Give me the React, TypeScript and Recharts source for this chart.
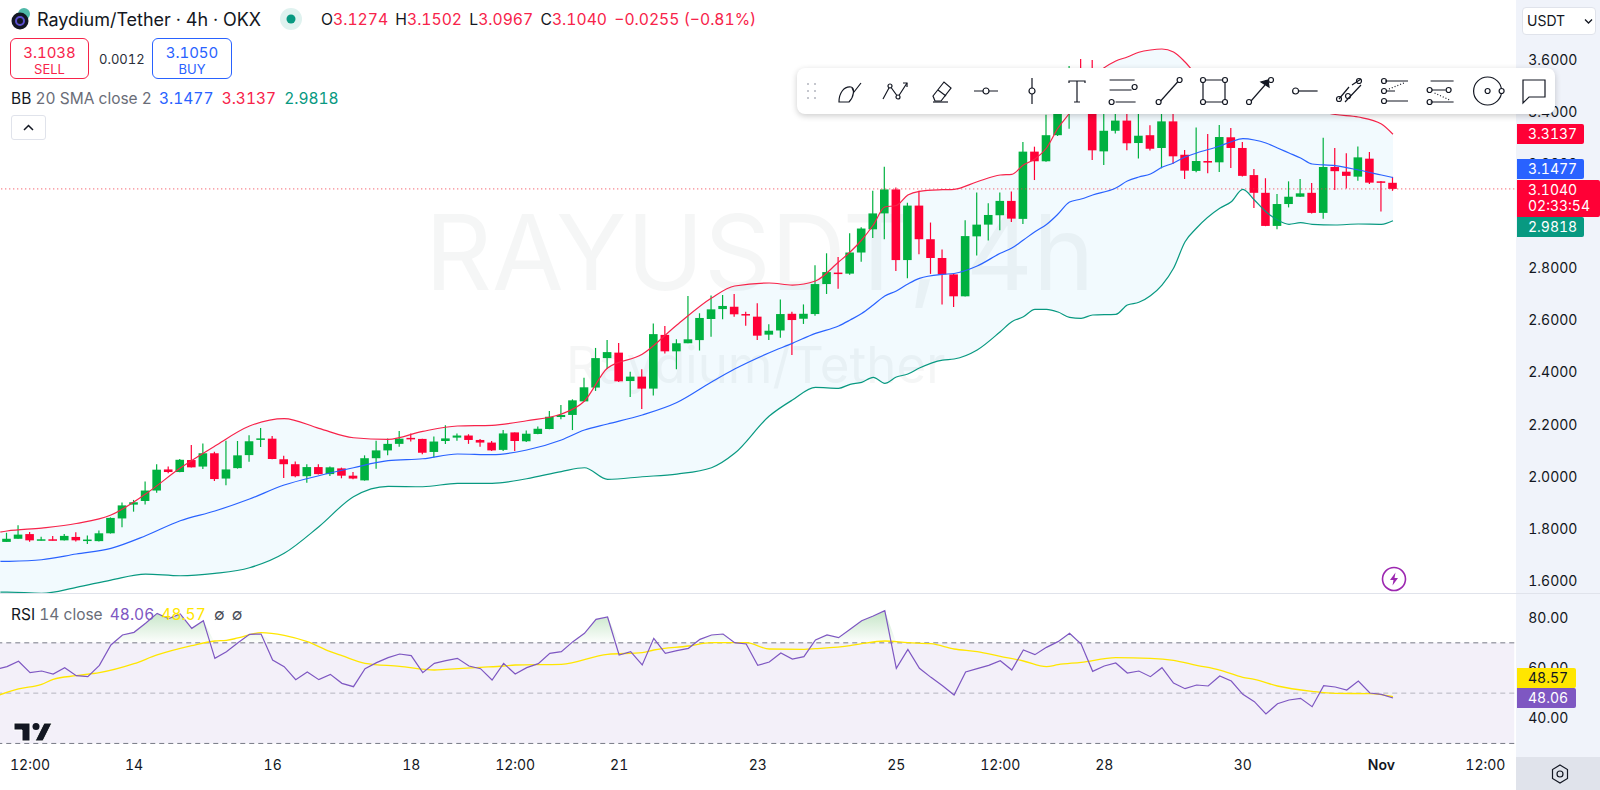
import React from "react";
import { ComposedChart, Bar, Line, Area, XAxis, YAxis, ReferenceLine, ReferenceArea } from "recharts";

const opens = [1.750,1.762,1.780,1.756,1.760,1.756,1.769,1.756,1.753,1.783,1.840,1.893,1.907,1.947,2.028,2.018,2.064,2.039,2.090,1.993,2.033,2.083,2.143,2.146,2.067,2.048,2.002,2.037,2.010,2.032,2.004,1.986,2.071,2.101,2.126,2.149,2.145,2.095,2.137,2.150,2.158,2.141,2.131,2.103,2.170,2.136,2.164,2.183,2.229,2.237,2.289,2.342,2.455,2.476,2.367,2.384,2.338,2.544,2.481,2.512,2.524,2.605,2.643,2.652,2.624,2.614,2.545,2.561,2.625,2.606,2.624,2.739,2.783,2.779,2.860,2.949,3.010,3.102,2.831,3.040,2.911,2.839,2.776,2.692,2.922,2.967,3.003,3.058,2.989,3.247,3.210,3.310,3.422,3.503,3.407,3.248,3.327,3.366,3.280,3.310,3.261,3.363,3.235,3.173,3.211,3.206,3.302,3.261,3.157,3.089,2.962,3.046,3.074,3.089,3.012,3.188,3.170,3.151,3.220,3.133,3.1274];
const highs = [1.785,1.814,1.788,1.770,1.773,1.780,1.787,1.775,1.794,1.844,1.901,1.911,1.982,2.048,2.039,2.068,2.122,2.127,2.096,2.138,2.137,2.159,2.187,2.156,2.080,2.058,2.048,2.048,2.039,2.035,2.018,2.082,2.138,2.147,2.175,2.166,2.146,2.154,2.197,2.166,2.163,2.145,2.137,2.179,2.170,2.177,2.193,2.252,2.275,2.297,2.380,2.494,2.524,2.513,2.403,2.412,2.588,2.578,2.527,2.693,2.627,2.695,2.697,2.701,2.633,2.665,2.585,2.680,2.633,2.661,2.811,2.857,2.843,2.934,2.957,3.097,3.189,3.109,3.051,3.097,2.975,2.872,2.778,2.984,3.090,3.049,3.090,3.094,3.284,3.266,3.388,3.483,3.575,3.602,3.598,3.445,3.426,3.399,3.399,3.348,3.430,3.430,3.253,3.340,3.315,3.349,3.338,3.284,3.180,3.145,3.084,3.133,3.142,3.127,3.300,3.261,3.241,3.267,3.246,3.134,3.1502];
const lows = [1.750,1.762,1.751,1.755,1.755,1.755,1.752,1.742,1.752,1.782,1.806,1.866,1.893,1.939,2.013,2.017,2.035,2.030,1.984,1.967,2.031,2.057,2.114,2.067,1.995,1.998,1.977,2.009,2.003,1.994,1.990,1.985,2.031,2.082,2.115,2.135,2.086,2.074,2.126,2.138,2.126,2.115,2.099,2.099,2.099,2.133,2.163,2.182,2.220,2.179,2.288,2.329,2.413,2.363,2.306,2.260,2.312,2.473,2.412,2.512,2.484,2.537,2.604,2.614,2.579,2.524,2.524,2.533,2.467,2.586,2.617,2.701,2.721,2.775,2.825,2.916,2.911,2.789,2.761,2.853,2.778,2.661,2.651,2.691,2.849,2.906,2.945,2.977,2.969,3.138,3.208,3.307,3.335,3.414,3.215,3.196,3.317,3.252,3.221,3.251,3.183,3.200,3.142,3.168,3.164,3.169,3.184,3.152,3.031,2.961,2.949,3.033,3.073,3.010,2.990,3.100,3.106,3.135,3.123,3.017,3.0967];
const closes = [1.762,1.778,1.756,1.760,1.756,1.773,1.756,1.759,1.783,1.842,1.890,1.902,1.947,2.027,2.018,2.065,2.036,2.090,1.991,2.028,2.082,2.136,2.147,2.068,2.048,2.002,2.037,2.010,2.036,2.004,1.993,2.071,2.101,2.126,2.146,2.146,2.092,2.135,2.147,2.158,2.141,2.131,2.101,2.166,2.137,2.165,2.184,2.230,2.237,2.293,2.343,2.455,2.478,2.366,2.384,2.338,2.547,2.481,2.512,2.527,2.609,2.642,2.655,2.623,2.619,2.541,2.560,2.624,2.601,2.625,2.739,2.785,2.778,2.860,2.952,3.010,3.102,2.831,3.040,2.911,2.839,2.776,2.692,2.923,2.967,3.004,3.058,2.990,3.247,3.210,3.310,3.445,3.464,3.445,3.252,3.327,3.366,3.279,3.308,3.258,3.363,3.229,3.174,3.211,3.205,3.303,3.261,3.154,3.089,2.962,3.046,3.074,3.087,3.012,3.188,3.172,3.154,3.225,3.128,3.129,3.1040];

const bandIndex = [-1,0,3,6,9,12,15,18,21,24,27,30,33,36,39,42,45,48,50,52,55,58,61,63,66,68,70,72,73,74,75,76,77,78,79,81,82,84,86,87,88,89,90,91,92,93,94,96,97,98,99,100,101,102,103,105,106,107,108,109,110,111,112,113,115,117,119,120];
const upperBand = [1.7840,1.7917,1.8032,1.8205,1.8530,1.9336,2.0333,2.1177,2.1945,2.2232,2.1857,2.1496,2.1434,2.1741,2.1945,2.1971,2.2148,2.2405,2.2904,2.4170,2.4695,2.5819,2.6855,2.7315,2.7430,2.7353,2.7507,2.8236,2.8619,2.9080,2.9655,3.0345,3.0403,3.0806,3.0948,3.1009,3.1025,3.1316,3.1573,3.1600,3.1957,3.2187,3.2609,3.3376,3.3951,3.4642,3.5294,3.5946,3.6100,3.6280,3.6368,3.6406,3.6291,3.5908,3.5409,3.5025,3.4910,3.4834,3.4680,3.4565,3.4450,3.4335,3.4220,3.4105,3.3894,3.3798,3.3529,3.3137];
const basisBand = [1.6747,1.6755,1.6816,1.7035,1.7253,1.7736,1.8312,1.8684,1.9144,1.9681,2.0038,2.0345,2.0614,2.0690,2.0871,2.0844,2.1024,2.1408,2.1791,2.2021,2.2367,2.2846,2.3633,2.4131,2.4756,2.5117,2.5500,2.5781,2.6011,2.6260,2.6586,2.6931,2.7123,2.7392,2.7610,2.7764,2.7795,2.8082,2.8569,2.8773,2.9080,2.9398,2.9674,3.0077,3.0537,3.0652,3.0806,3.1074,3.1343,3.1496,3.1611,3.1868,3.2033,3.2263,3.2417,3.2685,3.2850,3.2965,3.2916,3.2800,3.2609,3.2417,3.2225,3.1995,3.1930,3.1765,3.1573,3.1477];
const lowerBand = [1.5577,1.5577,1.5527,1.5757,1.6037,1.6267,1.6202,1.6294,1.6509,1.7061,1.8082,1.9233,1.9631,1.9616,1.9747,1.9747,1.9923,2.0199,2.0345,1.9900,2.0000,2.0103,2.0345,2.0897,2.2328,2.2942,2.3429,2.3391,2.3544,2.3621,2.3813,2.3583,2.3824,2.3939,2.4170,2.4476,2.4515,2.4860,2.5562,2.5946,2.6137,2.6421,2.6421,2.6318,2.6114,2.6076,2.6203,2.6229,2.6586,2.6690,2.6943,2.7353,2.7994,2.9014,2.9540,3.0296,3.0549,3.1024,3.0614,3.0165,2.9847,2.9682,2.9743,2.9682,2.9655,2.9693,2.9682,2.9818];

// first value belongs to the candle just left of the visible edge
const rsiValues = [59.47,60.53,62.65,58.14,58.80,57.61,60.13,56.95,56.55,61.06,69.14,73.12,74.18,77.76,81.73,79.61,81.47,75.77,78.82,63.84,66.49,70.07,73.38,73.51,63.18,60.53,55.36,58.40,55.36,57.48,53.90,52.57,59.73,62.12,64.10,65.56,64.90,58.14,61.85,62.91,63.84,60.79,59.73,55.22,61.85,57.61,60.13,61.72,65.83,66.49,70.47,73.78,79.35,80.27,65.17,66.49,61.19,71.79,65.83,66.89,67.82,71.39,73.12,73.51,70.07,69.54,61.06,62.38,65.96,63.57,64.50,71.13,73.12,72.06,75.37,78.82,80.67,82.79,59.86,67.42,59.86,56.28,52.97,49.26,58.40,59.73,61.06,62.91,59.20,67.15,65.30,68.21,70.47,73.78,69.54,58.67,60.79,61.98,58.01,58.80,56.55,60.13,54.03,51.78,53.24,52.84,56.81,54.83,49.53,46.61,41.70,45.81,47.27,47.93,44.62,52.97,52.44,51.25,54.83,50.05,49.53,48.06];
const maIndex = [-1,1,3,4,6,8,11,13,16,18,19,20,22,24,26,28,29,31,34,37,38,41,43,44,48,52,55,56,59,61,64,66,69,70,73,74,76,78,80,82,84,86,88,90,91,93,96,99,101,103,105,107,108,110,113,115,118,120];
const maValues = [48.73,51.65,53.50,55.49,56.95,58.14,61.72,65.17,68.88,70.73,71.00,71.93,74.05,72.98,70.47,66.49,64.90,61.85,60.66,59.20,59.46,60.26,60.79,61.19,61.45,65.43,66.09,67.15,68.74,70.07,70.07,67.55,67.42,67.68,68.88,69.67,70.73,70.07,69.67,67.55,66.49,64.63,62.78,60.53,61.32,62.25,64.10,63.84,63.04,61.06,59.20,56.28,55.49,52.84,50.72,49.92,49.79,48.57];

const priceTicks = [1.6,1.8,2.0,2.2,2.4,2.6,2.8,3.0,3.2,3.4,3.6];
const rsiTicks = [40,60,80];
const timeTickIndex = [2,11,23,35,44,53,65,77,86,95,107,119,128];
const timeTickLabels = ["12:00","14","16","18","12:00","21","23","25","12:00","28","30","Nov","12:00"];

const LAST_INDEX = 130;
const rows = Array.from({ length: LAST_INDEX + 2 }, (_, k) => {
  const idx = k - 1;
  const b = bandIndex.indexOf(idx);
  const m = maIndex.indexOf(idx);
  const hasC = idx >= 0 && idx < opens.length;
  const rsi = k < rsiValues.length ? rsiValues[k] : null;
  return {
    idx,
    open: hasC ? opens[idx] : null,
    high: hasC ? highs[idx] : null,
    low: hasC ? lows[idx] : null,
    close: hasC ? closes[idx] : null,
    wick: hasC ? [lows[idx], highs[idx]] : null,
    upper: b >= 0 ? upperBand[b] : null,
    basis: b >= 0 ? basisBand[b] : null,
    lower: b >= 0 ? lowerBand[b] : null,
    band: b >= 0 ? [lowerBand[b], upperBand[b]] : null,
    rsi,
    ma: m >= 0 ? maValues[m] : null,
    over: rsi != null ? [70, Math.max(70, rsi)] : null,
  };
});

const UP = "#00b140";
const DOWN = "#ff0036";
const FONT = "Inter, 'Noto Sans', sans-serif";
const TEXT = "#131722";

function Candle(props: any) {
  const { x, y, width, height, payload } = props;
  if (!payload || payload.open == null || height == null) return null;
  const { open, close, high, low } = payload;
  const span = high - low || 1;
  const top = y + ((high - Math.max(open, close)) / span) * height;
  const bot = y + ((high - Math.min(open, close)) / span) * height;
  const color = close >= open ? UP : DOWN;
  const cx = x + width / 2;
  return (
    <g>
      <line x1={cx} x2={cx} y1={y} y2={y + height} stroke={color} strokeWidth={1.2} />
      <rect x={x} y={top} width={width} height={Math.max(bot - top, 1.5)} fill={color} />
    </g>
  );
}

function TimeTick(props: any) {
  const { x, y, payload } = props;
  const label = timeTickLabels[timeTickIndex.indexOf(payload.value)];
  const bold = label === "Nov";
  return (
    <text x={x} y={y} dy={5} textAnchor="middle" fontFamily={FONT} fontSize={14} fontWeight={bold ? 600 : 400} fill={TEXT}>
      {label}
    </text>
  );
}

const abs = (left: number, top: number, extra: React.CSSProperties = {}): React.CSSProperties => ({
  position: "absolute",
  left,
  top,
  whiteSpace: "nowrap",
  fontFamily: FONT,
  ...extra,
});

function Tag({ top, left = 1517, width = 67, height = 20, bg, color = "#fff", text }: any) {
  return (
    <div
      style={abs(left, top, {
        width,
        height,
        background: bg,
        color,
        fontSize: 14,
        lineHeight: height + "px",
        paddingLeft: 11,
        boxSizing: "border-box",
        borderRadius: "0 2px 2px 0",
      })}
    >
      {text}
    </div>
  );
}

const S = { fill: "none", stroke: TEXT, strokeWidth: 1.2 } as const;
const toolIcons: [number, React.ReactNode][] = [
  [850, <g {...S}><path d="M-11 11 C-11 2 -6 -5 1 -4 C5 -3 4 6 -1 11 Z" /><path d="M2 -3 L4 1 L11 -8" /></g>],
  [895, <g {...S}><path d="M-12 8 L-5 -5 L3 6 L12 -8" /><circle cx={-5} cy={-5} r={2} fill="#fff" /><circle cx={3} cy={6} r={2} fill="#fff" /><path d="M8 -8 H12 V-4" /></g>],
  [941, <g {...S}><path d="M-8 5 L3 -9 L10 -3 L0 10 H-6 Z" /><path d="M-3 -1 L5 5" /><path d="M-8 11 H7" /></g>],
  [986, <g {...S}><path d="M-12 0 H-3 M3 0 H12" /><circle r={3} /></g>],
  [1032, <g {...S}><path d="M0 -13 V-3 M0 3 V13" /><circle r={3} /></g>],
  [1077, <g {...S}><path d="M-8 -8 V-10 H8 V-8 M0 -10 V11 M-3 11 H3" /></g>],
  [1122.6, <g {...S}><path d="M-13 -11 H12 M-13 -1 H9 M-7 11 H13 M-13 -3 H-13" /><circle cx={12} cy={-4} r={2.5} /><circle cx={-11} cy={11} r={2.5} /></g>],
  [1168.6, <g {...S}><path d="M-8 10 L9 -9" /><circle cx={-10} cy={11} r={2.5} /><circle cx={11} cy={-11} r={2.5} /></g>],
  [1214, <g {...S}><path d="M-9 -11 H9 M-11 -9 V9 M11 -9 V9 M-9 11 H9" /><circle cx={-11} cy={-11} r={2.5} /><circle cx={11} cy={-11} r={2.5} /><circle cx={-11} cy={11} r={2.5} /><circle cx={11} cy={11} r={2.5} /></g>],
  [1260, <g {...S}><path d="M-9 10 L5 -6" /><path d="M1 -9 L9 -4 L8 -11 Z" fill={TEXT} /><circle cx={-11} cy={11} r={2.5} /><circle cx={11} cy={-11} r={2.5} /></g>],
  [1305.6, <g {...S}><path d="M-7 0 H12" /><circle cx={-10} r={3} /></g>],
  [1351, <g {...S}><path d="M-12 8 L-2 -4 M-6 11 L10 -6 M1 -6 L10 -12" /><circle cx={-12} cy={8} r={2.5} /><circle cx={-3} cy={5} r={2.5} /><circle cx={8} cy={-10} r={2.5} /></g>],
  [1395, <g {...S}><path d="M-10 -10 H13 M-8 10 H13 M-9 0 H0" /><circle cx={-11} cy={-10} r={2.5} /><circle cx={-11} cy={0} r={2.5} /><circle cx={-11} cy={10} r={2.5} /><path d="M-6 -2 L9 -8" strokeDasharray="1 2" /></g>],
  [1440.6, <g {...S}><path d="M-10 -10 H13 M-10 11 H13 M-9 -1 H5" /><circle cx={-11} cy={-1} r={2.5} /><circle cx={8} cy={-1} r={2.5} /><circle cx={-11} cy={11} r={2.5} /><path d="M-6 2 L9 9" strokeDasharray="1 2" /></g>],
  [1487.6, <g {...S}><circle r={14} /><circle r={2.5} /><circle cx={14} r={2.5} fill="#fff" /></g>],
  [1534, <g {...S}><path d="M-11 -11 H11 V6 H-5 L-11 12 Z" /></g>],
];

export default function App() {
  const left = -10.35;
  const plotRight = 1514.25;
  return (
    <div style={{ position: "fixed", left: 0, top: 0, width: 1600, height: 790, overflow: "hidden", background: "#fff", fontVariantNumeric: "tabular-nums" }}>
      {/* panels behind the charts */}
      <div style={abs(1516, 0, { width: 84, height: 757, background: "#f0f3fa" })} />
      <div style={abs(1516, 757, { width: 84, height: 33, background: "#e0e3eb" })} />
      <div style={abs(0, 593, { width: 1600, height: 1, background: "#e0e3eb" })} />
      <div style={abs(425, 192, { fontSize: 104, fontWeight: 400, color: "rgba(120,123,134,0.07)", lineHeight: "120px" })}>RAYUSDT, 4h</div>
      <div style={abs(566, 335, { fontSize: 51, fontWeight: 400, color: "rgba(120,123,134,0.07)", lineHeight: "60px" })}>Raydium/Tether</div>

      <div style={abs(0, 0)}>
        <ComposedChart width={1600} height={593} data={rows} margin={{ top: 0, right: 0, bottom: 0, left }} barSize={8.6}>
          <XAxis dataKey="idx" scale="band" hide />
          <YAxis
            orientation="right"
            width={1600 - plotRight}
            domain={[1.554, 3.8286]}
            ticks={priceTicks}
            allowDataOverflow
            axisLine={false}
            tickLine={false}
            tickSize={0}
            tickMargin={14}
            tickFormatter={(v: number) => v.toFixed(4)}
            tick={{ fontFamily: FONT, fontSize: 14, fill: TEXT, textAnchor: "start" }}
          />
          <Area type="monotone" dataKey="band" stroke="none" fill="#18a0f0" fillOpacity={0.055} connectNulls dot={false} activeDot={false} isAnimationActive={false} />
          <ReferenceLine y={closes[closes.length - 1]} stroke="#f23645" strokeDasharray="1 3" strokeWidth={1} />
          <Line type="monotone" dataKey="upper" stroke="#f7234a" strokeWidth={1.2} dot={false} connectNulls isAnimationActive={false} />
          <Line type="monotone" dataKey="basis" stroke="#2962ff" strokeWidth={1.2} dot={false} connectNulls isAnimationActive={false} />
          <Line type="monotone" dataKey="lower" stroke="#089981" strokeWidth={1.2} dot={false} connectNulls isAnimationActive={false} />
          <Bar dataKey="wick" shape={<Candle />} isAnimationActive={false} />
        </ComposedChart>
      </div>

      <div style={abs(0, 594)}>
        <ComposedChart width={1600} height={196} data={rows} margin={{ top: 0, right: 0, bottom: 0, left }}>
          <defs>
            <linearGradient id="obFill" x1="0" y1="0" x2="0" y2="1">
              <stop offset="0%" stopColor="#4caf50" stopOpacity={0.55} />
              <stop offset="100%" stopColor="#4caf50" stopOpacity={0.02} />
            </linearGradient>
          </defs>
          <XAxis
            dataKey="idx"
            scale="band"
            ticks={timeTickIndex}
            interval={0}
            height={33}
            axisLine={false}
            tickLine={false}
            tick={<TimeTick />}
          />
          <YAxis
            orientation="right"
            width={1600 - plotRight}
            domain={[24.61, 89.42]}
            ticks={rsiTicks}
            allowDataOverflow
            axisLine={false}
            tickLine={false}
            tickSize={0}
            tickMargin={14}
            tickFormatter={(v: number) => v.toFixed(2)}
            tick={{ fontFamily: FONT, fontSize: 14, fill: TEXT, textAnchor: "start" }}
          />
          <ReferenceArea y1={30} y2={70} fill="#7e57c2" fillOpacity={0.09} stroke="none" />
          <ReferenceLine y={70} stroke="#787b86" strokeDasharray="5 4" strokeWidth={1} />
          <ReferenceLine y={50} stroke="#787b86" strokeOpacity={0.5} strokeDasharray="5 4" strokeWidth={1} />
          <ReferenceLine y={30} stroke="#787b86" strokeDasharray="5 4" strokeWidth={1} />
          <Area dataKey="over" stroke="none" fill="url(#obFill)" connectNulls dot={false} activeDot={false} isAnimationActive={false} />
          <Line type="monotone" dataKey="ma" stroke="#ffe600" strokeWidth={1.3} dot={false} connectNulls isAnimationActive={false} />
          <Line dataKey="rsi" stroke="#7e57c2" strokeWidth={1.2} dot={false} connectNulls isAnimationActive={false} />
        </ComposedChart>
      </div>

      {/* price tags */}
      <Tag top={124} bg="#ff0036" text="3.3137" />
      <Tag top={159} bg="#2962ff" text="3.1477" />
      <div style={abs(1517, 180, { width: 83, height: 37, background: "#ff0036", color: "#fff", borderRadius: "0 2px 2px 0", paddingLeft: 11, boxSizing: "border-box", fontSize: 14, lineHeight: "16px", paddingTop: 2 })}>
        3.1040
        <br />
        02:33:54
      </div>
      <Tag top={217} bg="#089981" text="2.9818" />
      <Tag top={668} width={59} bg="#ffe600" color={TEXT} text="48.57" />
      <Tag top={688} width={59} bg="#7e57c2" text="48.06" />

      {/* currency button */}
      <div style={abs(1522, 7, { width: 74, height: 28, background: "#fff", border: "1px solid #e0e3eb", boxSizing: "border-box", borderRadius: 4, fontSize: 14, lineHeight: "26px", paddingLeft: 4, color: TEXT })}>
        USDT
        <svg width="10" height="8" style={{ position: "absolute", left: 61, top: 10 }}>
          <path d="M1 1.5 L4.5 5 L8 1.5" fill="none" stroke={TEXT} strokeWidth="1.3" />
        </svg>
      </div>

      {/* header */}
      <svg width="30" height="30" style={abs(8, 6)}>
        <circle cx="16" cy="8" r="6" fill="#4fb8a8" />
        <circle cx="12" cy="15" r="8.5" fill="#131722" />
        <circle cx="12" cy="15" r="4" fill="none" stroke="#5a4fcf" strokeWidth="2" />
      </svg>
      <div style={abs(37, 9, { fontSize: 18, lineHeight: "22px", color: TEXT })}>Raydium/Tether · 4h · OKX</div>
      <svg width="24" height="24" style={abs(279, 7)}>
        <circle cx="12" cy="12" r="11" fill="#089981" fillOpacity="0.13" />
        <circle cx="12" cy="12" r="4.5" fill="#089981" />
      </svg>
      <div style={abs(321, 10, { fontSize: 15.7, lineHeight: "20px", color: "#f7234a" })}>
        <span style={{ color: TEXT }}>O</span>3.1274 <span style={{ color: TEXT, marginLeft: 3 }}>H</span>3.1502 <span style={{ color: TEXT, marginLeft: 3 }}>L</span>3.0967 <span style={{ color: TEXT, marginLeft: 3 }}>C</span>3.1040 <span style={{ marginLeft: 3 }}>−0.0255 (−0.81%)</span>
      </div>
      <div style={abs(10, 38, { width: 79, height: 41, border: "1px solid #f7234a", borderRadius: 6, boxSizing: "border-box", textAlign: "center", color: "#f7234a", background: "#fff" })}>
        <div style={{ fontSize: 15, lineHeight: "17px", marginTop: 5 }}>3.1038</div>
        <div style={{ fontSize: 13, lineHeight: "16px" }}>SELL</div>
      </div>
      <div style={abs(99, 50, { fontSize: 13, lineHeight: "18px", color: "#2a2e39" })}>0.0012</div>
      <div style={abs(152, 38, { width: 80, height: 41, border: "1px solid #2962ff", borderRadius: 6, boxSizing: "border-box", textAlign: "center", color: "#2962ff", background: "#fff" })}>
        <div style={{ fontSize: 15, lineHeight: "17px", marginTop: 5 }}>3.1050</div>
        <div style={{ fontSize: 13, lineHeight: "16px" }}>BUY</div>
      </div>
      <div style={abs(11, 89, { fontSize: 15.5, lineHeight: "20px", color: "#6a6d78" })}>
        <span style={{ color: TEXT }}>BB</span> 20 SMA close 2 <span style={{ color: "#2962ff", marginLeft: 3 }}>3.1477</span> <span style={{ color: "#f7234a", marginLeft: 4 }}>3.3137</span> <span style={{ color: "#089981", marginLeft: 4 }}>2.9818</span>
      </div>
      <div style={abs(11, 115, { width: 35, height: 25, border: "1px solid #e0e3eb", borderRadius: 3, boxSizing: "border-box", background: "#fff" })}>
        <svg width="33" height="23">
          <path d="M12 14 L16.5 9.5 L21 14" fill="none" stroke={TEXT} strokeWidth="1.5" />
        </svg>
      </div>
      <div style={abs(11, 605, { fontSize: 15.5, lineHeight: "20px", color: "#6a6d78" })}>
        <span style={{ color: TEXT }}>RSI</span> 14 close <span style={{ color: "#7e57c2", marginLeft: 3 }}>48.06</span> <span style={{ color: "#ffe600", marginLeft: 3 }}>48.57</span> <span style={{ color: "#4a4d58", marginLeft: 4 }}>∅</span> <span style={{ color: "#4a4d58", marginLeft: 3 }}>∅</span>
      </div>

      {/* TradingView mark */}
      <svg width="44" height="24" style={abs(12, 721)}>
        <path d="M2 2 H18 V20 H10 V9 H2 Z" fill="#131722" stroke="#fff" strokeWidth="1" />
        <circle cx="24" cy="5.5" r="3.5" fill="#131722" />
        <path d="M32 2 H40 L31 20 H23 Z" fill="#131722" stroke="#fff" strokeWidth="1" />
      </svg>

      {/* lightning badge */}
      <svg width="26" height="26" style={abs(1381, 566)}>
        <circle cx="13" cy="13" r="11.5" fill="#fff" stroke="#9c27b0" strokeWidth="1.6" />
        <path d="M14.5 6.5 L9 14 H12.5 L11.5 19.5 L17 12 H13.5 Z" fill="#9c27b0" />
      </svg>

      {/* settings icon */}
      <svg width="24" height="24" style={abs(1548, 762)}>
        <path d="M12 3 L19.5 7.5 V16.5 L12 21 L4.5 16.5 V7.5 Z" fill="none" stroke={TEXT} strokeWidth="1.2" />
        <circle cx="12" cy="12" r="3" fill="none" stroke={TEXT} strokeWidth="1.2" />
      </svg>

      {/* drawing toolbar */}
      <div style={abs(797, 68, { width: 758, height: 46, background: "#fff", borderRadius: 8, boxShadow: "0 2px 6px rgba(0,0,0,0.2)" })} />
      <svg width="758" height="46" style={abs(797, 68)}>
        {[0, 1, 2].map((r) => [0, 1].map((c) => <circle key={r + "-" + c} cx={11 + c * 7} cy={16 + r * 7} r={1} fill="#b2b5be" />))}
        {toolIcons.map(([cx, icon], i) => (
          <g key={i} transform={`translate(${cx - 797},23)`}>{icon}</g>
        ))}
      </svg>
    </div>
  );
}
